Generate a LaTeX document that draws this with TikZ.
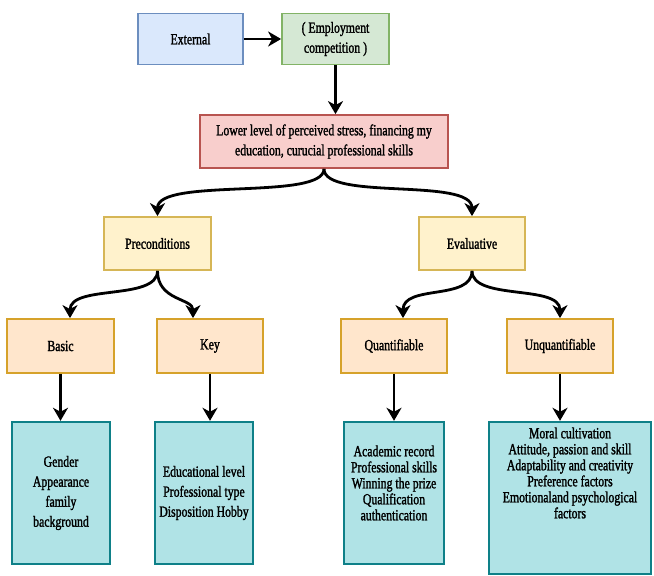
\documentclass[tikz,border=0pt]{standalone}
\usepackage{fontspec}
\setmainfont{Liberation Serif}[FakeStretch=0.76,FakeBold=1.5]
\usetikzlibrary{positioning}
\usetikzlibrary{arrows.meta}

\definecolor{blueFill}{HTML}{DAE8FC}
\definecolor{blueLine}{HTML}{6C8EBF}
\definecolor{greenFill}{HTML}{D5E8D4}
\definecolor{greenLine}{HTML}{82B366}
\definecolor{redFill}{HTML}{F8CECC}
\definecolor{redLine}{HTML}{B85450}
\definecolor{yellowFill}{HTML}{FFF2CC}
\definecolor{yellowLine}{HTML}{D6B656}
\definecolor{orangeFill}{HTML}{FFE6CC}
\definecolor{orangeLine}{HTML}{D6A22A}
\definecolor{tealFill}{HTML}{B0E3E6}
\definecolor{tealLine}{HTML}{0E8088}

\tikzset{
  box/.style={draw, line width=1.8pt, align=center, inner sep=2pt,
    font=\fontsize{15.5}{20}\selectfont},
  bluebox/.style={box, fill=blueFill, draw=blueLine},
  greenbox/.style={box, fill=greenFill, draw=greenLine},
  redbox/.style={box, fill=redFill, draw=redLine},
  yellowbox/.style={box, fill=yellowFill, draw=yellowLine},
  orangebox/.style={box, fill=orangeFill, draw=orangeLine},
  tealbox/.style={box, fill=tealFill, draw=tealLine, line width=2.4pt},
  tight/.style={align=center, font=\fontsize{15.5}{16}\selectfont},
  arr/.style={line width=2.8pt, -{Stealth[length=13pt,width=15pt,inset=4pt]}}
}

\begin{document}
\begin{tikzpicture}[x=1pt,y=-1pt]
\useasboundingbox (0,0) rectangle (654,576);
%top row
\node[bluebox, minimum width=105pt, minimum height=51pt] (ext) at (190.5,39) {External};
\node[greenbox, minimum width=107pt, minimum height=51pt] (emp) at (335.5,39) {( Employment\\competition )};
%core
\node[redbox, minimum width=248pt, minimum height=53pt] (core) at (324,141.5)
  {Lower level of perceived stress, financing my\\education, curucial professional skills};
%second level
\node[yellowbox, minimum width=107pt, minimum height=53pt] (pre) at (157.5,243.5) {Preconditions};
\node[yellowbox, minimum width=106pt, minimum height=53pt] (eva) at (472,243.5) {Evaluative};
%third level
\node[orangebox, minimum width=107pt, minimum height=54pt] (basic) at (60.5,346) {Basic};
\node[orangebox, minimum width=106pt, minimum height=54pt] (key) at (210,346) {Key\vphantom{B}};
\node[orangebox, minimum width=106pt, minimum height=54pt] (quant) at (394,346) {Quantifiable};
\node[orangebox, minimum width=106pt, minimum height=54pt] (unquant) at (560,346) {Unquantifiable};
%factor boxes
\node[tealbox, minimum width=98pt, minimum height=142pt] (gender) at (61,493)
  {Gender\\Appearance\\family\\background};
\node[tealbox, minimum width=98pt, minimum height=142pt] (edu) at (204,493)
  {Educational level\\Professional type\\Disposition Hobby};
\node[tealbox, minimum width=100pt, minimum height=142pt] (acad) at (394,493) {};
\node[tight] (acadtext) at ([yshift=10pt]acad.center)
  {Academic record\\Professional skills\\Winning the prize\\Qualification\\authentication};
\node[tealbox, minimum width=162pt, minimum height=152pt] (moral) at (570,498) {};
\node[tight] (moraltext) at ([yshift=25pt]moral.center)
  {Moral cultivation\\Attitude, passion and skill\\Adaptability and creativity\\Preference factors\\Emotionaland psychological\\factors};
%straight arrows
\draw[arr] (ext) -- (emp);
\draw[arr] (emp.south) -- (emp.south |- core.north);
\draw[arr] (basic.south) -- (basic.south |- gender.north);
\draw[arr] (key.south) -- (key.south |- edu.north);
\draw[arr] (quant.south) -- (quant.south |- acad.north);
\draw[arr] (unquant.south) -- (unquant.south |- moral.north);
%curved arrows
\draw[arr] (core.south) .. controls +(0,32) and +(0,-39) .. (pre.north);
\draw[arr] (core.south) .. controls +(0,32) and +(0,-39) .. (eva.north);
\draw[arr] (pre.south) .. controls +(0,30) and +(0,-34) .. ([xshift=9.5pt]basic.north);
\draw[arr] (pre.south) .. controls +(0,30) and +(0,-20) .. ([xshift=-17pt]key.north);
\draw[arr] (eva.south) .. controls +(0,30) and +(0,-34) .. ([xshift=9pt]quant.north);
\draw[arr] (eva.south) .. controls +(0,30) and +(0,-34) .. (unquant.north);
\end{tikzpicture}
\end{document}
